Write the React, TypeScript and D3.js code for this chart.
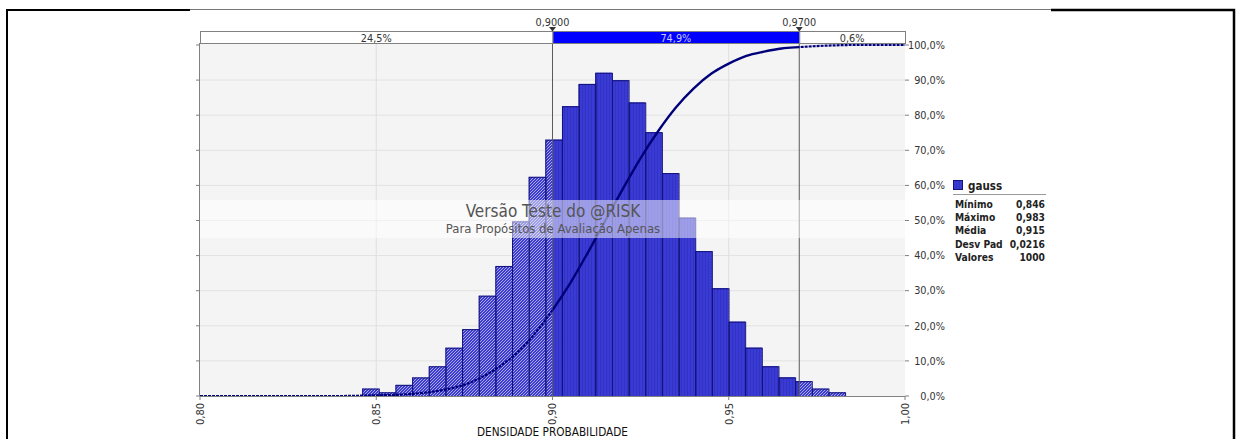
import React, { useEffect, useRef } from 'react';
import * as d3 from 'd3';

// histogram of 1000 values (29 classes between min and max)
const binMin = 0.846;
const binMax = 0.983;
const binCounts = [2, 1, 3, 5, 8, 13, 18, 27, 35, 47, 59, 69, 78, 84, 87, 85, 79, 71, 60, 48, 39, 29, 20, 13, 8, 5, 4, 2, 1];
const totalValues = 1000;

// cumulative curve
const cdfX = [0.8, 0.84, 0.846, 0.85, 0.855, 0.86, 0.865, 0.87, 0.875, 0.88, 0.885, 0.89, 0.895, 0.9, 0.905, 0.91, 0.915, 0.92, 0.925, 0.93, 0.935, 0.94, 0.945, 0.95, 0.955, 0.96, 0.965, 0.97, 0.975, 0.98, 0.985, 1.0];
const cdfPct = [0, 0, 0.1, 0.2, 0.3, 0.6, 1.1, 1.9, 3.2, 5.4, 8.4, 12.4, 17.8, 24.5, 32.1, 40.8, 50.0, 59.1, 67.8, 75.5, 82.2, 87.6, 91.8, 94.7, 96.9, 98.1, 99.0, 99.4, 99.7, 99.9, 100, 100];

const xTicks = [0.8, 0.85, 0.9, 0.95, 1.0];
const xTickLabels = ['0,80', '0,85', '0,90', '0,95', '1,00'];
const xGrid = [0.85, 0.95];
const yTicks = [0, 10, 20, 30, 40, 50, 60, 70, 80, 90, 100];
const yTickLabels = ['0,0%', '10,0%', '20,0%', '30,0%', '40,0%', '50,0%', '60,0%', '70,0%', '80,0%', '90,0%', '100,0%'];

const delimiters = [0.9, 0.97];
const delimiterLabels = ['0,9000', '0,9700'];
const regionLabels = ['24,5%', '74,9%', '0,6%'];

const seriesName = 'gauss';
const statNames = ['Mínimo', 'Máximo', 'Média', 'Desv Pad', 'Valores'];
const statValues = ['0,846', '0,983', '0,915', '0,0216', '1000'];

const App = () => {
  const svgRef = useRef<SVGSVGElement>(null);

  useEffect(() => {
    document.body.style.margin = '0';
    const width = 1237;
    const height = 439;
    const left = 200;
    const right = 905;
    const top = 45;
    const bottom = 396;
    const font = "'DejaVu Sans Condensed', 'DejaVu Sans', sans-serif";

    const svg = d3.select(svgRef.current).attr('width', width).attr('height', height);
    svg.selectAll('*').remove();
    svg.style('font-family', font);

    const x = d3.scaleLinear().domain([0.8, 1.0]).range([left, right]);
    const yPct = d3.scaleLinear().domain([0, 100]).range([bottom, top]);
    const yDens = d3.scaleLinear().domain([0, 20]).range([bottom, top]);
    const n = binCounts.length;
    const binWidth = (binMax - binMin) / n;
    const edges = d3.range(n + 1).map(i => binMin + i * binWidth);

    const defs = svg.append('defs');
    const hatch = defs.append('pattern').attr('id', 'hatch')
      .attr('patternUnits', 'userSpaceOnUse').attr('width', 3).attr('height', 3);
    hatch.append('rect').attr('width', 3).attr('height', 3).attr('fill', '#3c3cce');
    hatch.append('path').attr('d', 'M-1,1 l2,-2 M0,3 l3,-3 M2,4 l2,-2')
      .attr('stroke', '#c4c4f2').attr('stroke-width', 0.8);
    const solid = defs.append('pattern').attr('id', 'solid')
      .attr('patternUnits', 'userSpaceOnUse').attr('width', 3).attr('height', 3);
    solid.append('rect').attr('width', 3).attr('height', 3).attr('fill', '#3a3ad4');
    solid.append('rect').attr('width', 1).attr('height', 3).attr('fill', '#3232c4');

    const [d0, d1] = delimiters;
    defs.append('clipPath').attr('id', 'inside').append('rect')
      .attr('x', x(d0)).attr('y', 0).attr('width', x(d1) - x(d0)).attr('height', height);
    const outside = defs.append('clipPath').attr('id', 'outside');
    outside.append('rect').attr('x', 0).attr('y', 0).attr('width', x(d0)).attr('height', height);
    outside.append('rect').attr('x', x(d1)).attr('y', 0).attr('width', width - x(d1)).attr('height', height);

    // plot background and grid
    svg.append('rect').attr('x', left).attr('y', top - 2).attr('width', right - left).attr('height', bottom - top + 2)
      .attr('fill', '#f4f4f4');
    svg.append('g').selectAll('line').data(yTicks.slice(1, -1)).join('line')
      .attr('x1', left).attr('x2', right).attr('y1', d => yPct(d)).attr('y2', d => yPct(d))
      .attr('stroke', '#e2e2e2');
    svg.append('g').selectAll('line').data(xGrid).join('line')
      .attr('x1', d => x(d)).attr('x2', d => x(d)).attr('y1', top - 2).attr('y2', bottom)
      .attr('stroke', '#dedede');

    // bars
    const barY = (c: number) => yDens(c / (totalValues * binWidth));
    const bars = binCounts.map((c, i) => ({ c, x0: edges[i], x1: edges[i + 1] }));
    svg.append('g').selectAll('rect').data(bars).join('rect')
      .attr('x', d => x(d.x0)).attr('width', d => x(d.x1) - x(d.x0))
      .attr('y', d => barY(d.c)).attr('height', d => bottom - barY(d.c))
      .attr('fill', 'url(#hatch)');
    svg.append('g').attr('clip-path', 'url(#inside)').selectAll('rect').data(bars).join('rect')
      .attr('x', d => x(d.x0)).attr('width', d => x(d.x1) - x(d.x0))
      .attr('y', d => barY(d.c)).attr('height', d => bottom - barY(d.c))
      .attr('fill', 'url(#solid)');
    svg.append('g').selectAll('rect').data(bars).join('rect')
      .attr('x', d => x(d.x0) + 0.5).attr('width', d => x(d.x1) - x(d.x0))
      .attr('y', d => barY(d.c) + 0.5).attr('height', d => bottom - barY(d.c))
      .attr('fill', 'none').attr('stroke', '#12127a').attr('stroke-width', 1);

    // delimiter lines
    svg.append('g').selectAll('line').data(delimiters).join('line')
      .attr('x1', d => x(d)).attr('x2', d => x(d)).attr('y1', 31).attr('y2', bottom)
      .attr('stroke', '#5a5a5a');

    // cumulative curve
    const line = d3.line<number>()
      .x((d, i) => x(cdfX[i]))
      .y(d => yPct(d))
      .curve(d3.curveMonotoneX);
    svg.append('path').datum(cdfPct).attr('clip-path', 'url(#inside)')
      .attr('fill', 'none').attr('stroke', '#00007a').attr('stroke-width', 2.4).attr('d', line);
    svg.append('path').datum(cdfPct).attr('clip-path', 'url(#outside)')
      .attr('fill', 'none').attr('stroke', '#00007a').attr('stroke-width', 2.2)
      .attr('stroke-dasharray', '3,1').attr('d', line);

    // watermark
    svg.append('rect').attr('x', left).attr('y', 200).attr('width', right - left).attr('height', 38)
      .attr('fill', '#ffffff').attr('opacity', 0.5);
    svg.append('text').attr('x', 553).attr('y', 217).attr('text-anchor', 'middle')
      .attr('font-size', 17).attr('fill', '#555').text('Versão Teste do @RISK');
    svg.append('text').attr('x', 553).attr('y', 233).attr('text-anchor', 'middle')
      .attr('font-size', 13).attr('fill', '#555').text('Para Propósitos de Avaliação Apenas');

    // left axis (no labels)
    svg.append('line').attr('x1', left - 0.5).attr('x2', left - 0.5).attr('y1', top - 2).attr('y2', bottom)
      .attr('stroke', '#808080');
    svg.append('g').selectAll('line').data(yTicks).join('line')
      .attr('x1', left - 4).attr('x2', left).attr('y1', d => yPct(d)).attr('y2', d => yPct(d))
      .attr('stroke', '#808080');

    // bottom axis
    svg.append('line').attr('x1', left).attr('x2', right).attr('y1', bottom + 0.5).attr('y2', bottom + 0.5)
      .attr('stroke', '#808080');
    svg.append('g').selectAll('line').data(xTicks).join('line')
      .attr('x1', d => x(d)).attr('x2', d => x(d)).attr('y1', bottom).attr('y2', bottom + 4)
      .attr('stroke', '#808080');
    svg.append('g').selectAll('text').data(xTicks).join('text')
      .attr('transform', d => `translate(${x(d)},${403}) rotate(-90)`)
      .attr('text-anchor', 'end').attr('dy', '0.35em')
      .attr('font-size', 11).attr('fill', '#333')
      .text((d, i) => xTickLabels[i]);
    svg.append('text').attr('x', (left + right) / 2).attr('y', 436).attr('text-anchor', 'middle')
      .attr('font-size', 11.7).attr('fill', '#111').text('DENSIDADE PROBABILIDADE');

    // right axis (cumulative %)
    svg.append('g').selectAll('line').data(yTicks).join('line')
      .attr('x1', right).attr('x2', right + 4).attr('y1', d => yPct(d)).attr('y2', d => yPct(d))
      .attr('stroke', '#808080');
    svg.append('g').selectAll('text').data(yTicks).join('text')
      .attr('x', 945).attr('y', d => yPct(d)).attr('dy', '0.35em').attr('text-anchor', 'end')
      .attr('font-size', 10.8).attr('fill', '#333')
      .text((d, i) => yTickLabels[i]);

    // top probability bar
    const bounds = [0.8, d0, d1, 1.0];
    const regions = regionLabels.map((label, i) => ({ label, a: bounds[i], b: bounds[i + 1], mid: i === 1 }));
    svg.append('g').selectAll('rect').data(regions).join('rect')
      .attr('x', d => x(d.a) + 0.5).attr('width', d => x(d.b) - x(d.a)).attr('y', 31.5).attr('height', 12)
      .attr('fill', d => (d.mid ? '#0000ff' : '#ffffff')).attr('stroke', '#808080');
    svg.append('g').selectAll('text').data(regions).join('text')
      .attr('x', d => (x(d.a) + x(d.b)) / 2).attr('y', 41.5).attr('text-anchor', 'middle')
      .attr('font-size', 10.8).attr('fill', d => (d.mid ? '#c8c8ff' : '#333'))
      .text(d => d.label);
    svg.append('g').selectAll('path').data(delimiters).join('path')
      .attr('d', d => `M${x(d) - 3.5},27 L${x(d) + 3.5},27 L${x(d)},31.5 Z`).attr('fill', '#333');
    svg.append('g').selectAll('text').data(delimiters).join('text')
      .attr('x', d => x(d)).attr('y', 25.5).attr('text-anchor', 'middle')
      .attr('font-size', 10.8).attr('fill', '#333')
      .text((d, i) => delimiterLabels[i]);

    // legend
    const lg = svg.append('g').attr('transform', 'translate(953,180)');
    lg.append('rect').attr('x', 0.5).attr('y', 0.5).attr('width', 9).attr('height', 9)
      .attr('fill', 'url(#solid)').attr('stroke', '#12127a');
    lg.append('text').attr('x', 15).attr('y', 9.5).attr('font-size', 11.5).attr('font-weight', 'bold')
      .attr('fill', '#222').text(seriesName);
    lg.append('line').attr('x1', 0).attr('x2', 93).attr('y1', 14.5).attr('y2', 14.5).attr('stroke', '#999');
    lg.selectAll('text.name').data(statNames).join('text').attr('class', 'name')
      .attr('x', 2).attr('y', (d, i) => 27.5 + i * 13.4)
      .attr('font-size', 10.2).attr('font-weight', 'bold').attr('fill', '#222').text(d => d);
    lg.selectAll('text.val').data(statValues).join('text').attr('class', 'val')
      .attr('x', 92).attr('y', (d, i) => 27.5 + i * 13.4).attr('text-anchor', 'end')
      .attr('font-size', 10.2).attr('font-weight', 'bold').attr('fill', '#222').text(d => d);

    // page frame
    svg.append('line').attr('x1', 190).attr('x2', 1051).attr('y1', 9.5).attr('y2', 9.5).attr('stroke', '#777');
    svg.append('path').attr('d', 'M7,439 L7,10 L190,10').attr('fill', 'none').attr('stroke', '#000').attr('stroke-width', 2);
    svg.append('path').attr('d', 'M1051,10 L1234,10 L1234,439').attr('fill', 'none').attr('stroke', '#000').attr('stroke-width', 2.5);
  }, []);

  return <svg ref={svgRef} style={{ display: 'block' }}></svg>;
};

export default App;
